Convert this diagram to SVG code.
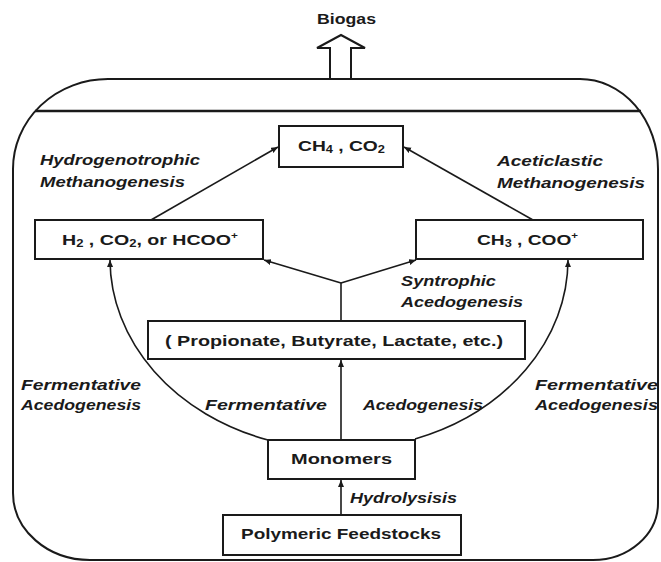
<svg xmlns="http://www.w3.org/2000/svg" width="661" height="562" viewBox="0 0 661 562">
<defs>
<style>
.bx{fill:#fff;stroke:#1a1a1a;stroke-width:2}
.nt{font-family:"Liberation Sans",Arial,sans-serif;font-weight:bold;font-size:15px;fill:#1a1a1a;text-anchor:middle}
.lb{font-family:"Liberation Sans",Arial,sans-serif;font-weight:bold;font-style:italic;font-size:14px;fill:#1a1a1a}
.cn{fill:none;stroke:#1a1a1a;stroke-width:1.6}
.ar{marker-end:url(#ah)}
</style>
<marker id="ah" markerWidth="9" markerHeight="8" refX="7" refY="3" orient="auto" markerUnits="userSpaceOnUse">
<path d="M0,0 L7,3 L0,6 Z" fill="#1a1a1a"/>
</marker>
</defs>
<rect width="661" height="562" fill="#fff"/>

<g id="container">
<path d="M108,79 H580 A78,90 0 0,1 658,169 V503 A65,57 0 0,1 593,560 H90 A77,67 0 0,1 13,493 V169 A95,90 0 0,1 108,79 Z" fill="none" stroke="#1a1a1a" stroke-width="2"/>
<line x1="35" y1="111" x2="641" y2="111" stroke="#1a1a1a" stroke-width="2.5"/>
</g>

<g id="biogas">
<polygon points="330,79 330,48 317,48 341,35 365,48 351,48 351,79" fill="#fff" stroke="#1a1a1a" stroke-width="2"/>
<text class="nt" x="346.5" y="24" font-size="14" textLength="59" lengthAdjust="spacingAndGlyphs">Biogas</text>
</g>

<g id="connectors">
<line class="cn ar" x1="341" y1="515" x2="341" y2="480"/>
<line class="cn ar" x1="341" y1="440" x2="341" y2="360"/>
<polyline class="cn" points="341,321 341,283"/>
<line class="cn ar" x1="341" y1="283" x2="264" y2="260"/>
<line class="cn ar" x1="341" y1="283" x2="416" y2="260"/>
<line class="cn ar" x1="151" y1="220" x2="278" y2="147"/>
<line class="cn ar" x1="533" y1="220" x2="404" y2="147"/>
<path class="cn ar" d="M268,440 A229,190.4 0 0,1 110,260"/>
<path class="cn ar" d="M415,439 A229,190.4 0 0,0 568,260"/>
</g>

<g id="ch4">
<rect class="bx" x="279" y="126" width="124" height="41"/>
<text class="nt" x="341.5" y="151" textLength="87" lengthAdjust="spacingAndGlyphs">CH<tspan font-size="10" dy="2">4</tspan><tspan dy="-2"> , CO</tspan><tspan font-size="10" dy="2">2</tspan></text>
</g>

<g id="h2">
<rect class="bx" x="35" y="220" width="228" height="39"/>
<text class="nt" x="150" y="245" textLength="176" lengthAdjust="spacingAndGlyphs">H<tspan font-size="10" dy="2">2</tspan><tspan dy="-2"> , CO</tspan><tspan font-size="10" dy="2">2</tspan><tspan dy="-2">, or HCOO</tspan><tspan font-size="9" dy="-6">+</tspan></text>
</g>

<g id="ch3">
<rect class="bx" x="416" y="220" width="227" height="39"/>
<text class="nt" x="527.5" y="245" textLength="101" lengthAdjust="spacingAndGlyphs">CH<tspan font-size="10" dy="2">3</tspan><tspan dy="-2"> , COO</tspan><tspan font-size="9" dy="-6">+</tspan></text>
</g>

<g id="propionate">
<rect class="bx" x="148" y="321" width="377" height="38"/>
<text class="nt" x="334" y="346" textLength="338" lengthAdjust="spacingAndGlyphs">( Propionate, Butyrate, Lactate, etc.)</text>
</g>

<g id="monomers">
<rect class="bx" x="268" y="440" width="147" height="39"/>
<text class="nt" x="341.5" y="464" textLength="101" lengthAdjust="spacingAndGlyphs">Monomers</text>
</g>

<g id="polymeric">
<rect class="bx" x="223" y="515" width="238" height="40"/>
<text class="nt" x="341" y="539" textLength="200" lengthAdjust="spacingAndGlyphs">Polymeric Feedstocks</text>
</g>

<g id="labels">
<text class="lb" x="40" y="165" textLength="160" lengthAdjust="spacingAndGlyphs">Hydrogenotrophic</text>
<text class="lb" x="40" y="187" textLength="145" lengthAdjust="spacingAndGlyphs">Methanogenesis</text>
<text class="lb" x="497" y="166" textLength="106" lengthAdjust="spacingAndGlyphs">Aceticlastic</text>
<text class="lb" x="497" y="188" textLength="148" lengthAdjust="spacingAndGlyphs">Methanogenesis</text>
<text class="lb" x="401" y="286" textLength="95" lengthAdjust="spacingAndGlyphs">Syntrophic</text>
<text class="lb" x="401" y="307" textLength="122" lengthAdjust="spacingAndGlyphs">Acedogenesis</text>
<text class="lb" x="21" y="390" textLength="120" lengthAdjust="spacingAndGlyphs">Fermentative</text>
<text class="lb" x="21" y="410" textLength="120" lengthAdjust="spacingAndGlyphs">Acedogenesis</text>
<text class="lb" x="205" y="410" textLength="122" lengthAdjust="spacingAndGlyphs">Fermentative</text>
<text class="lb" x="363" y="410" textLength="120" lengthAdjust="spacingAndGlyphs">Acedogenesis</text>
<text class="lb" x="535" y="390" textLength="123" lengthAdjust="spacingAndGlyphs">Fermentative</text>
<text class="lb" x="535" y="410" textLength="123" lengthAdjust="spacingAndGlyphs">Acedogenesis</text>
<text class="lb" x="350" y="503" textLength="107" lengthAdjust="spacingAndGlyphs">Hydrolysisis</text>
</g>
</svg>
